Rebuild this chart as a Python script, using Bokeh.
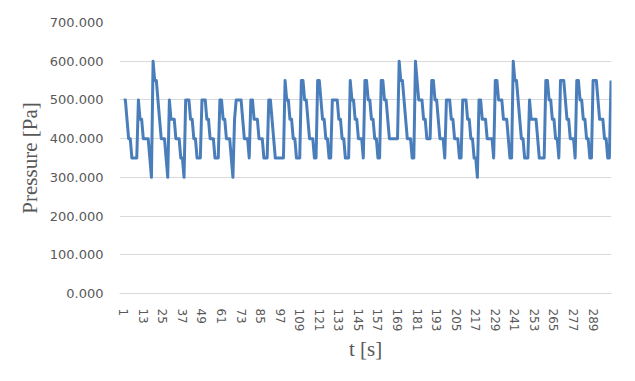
from bokeh.plotting import figure
from bokeh.models import FixedTicker, PrintfTickFormatter, Range1d, ColumnDataSource
from bokeh.embed import file_html
from bokeh.resources import INLINE

# ---- data -------------------------------------------------------------
t_seconds = list(range(1, 301))

pressure = [
    500, 500, 450, 400, 400, 350, 350, 350, 350, 500,
    450, 450, 400, 400, 400, 400, 350, 300, 600, 550,
    550, 500, 450, 400, 400, 400, 350, 300, 500, 450,
    450, 450, 400, 400, 400, 350, 350, 300, 500, 500,
    500, 450, 450, 400, 400, 350, 350, 350, 500, 500,
    500, 450, 450, 400, 400, 400, 350, 350, 350, 500,
    500, 450, 450, 400, 400, 400, 350, 300, 450, 500,
    500, 500, 500, 450, 400, 400, 400, 350, 500, 500,
    450, 450, 450, 400, 400, 400, 350, 350, 350, 500,
    500, 450, 400, 350, 350, 350, 350, 350, 350, 550,
    500, 500, 450, 450, 400, 400, 350, 350, 350, 550,
    550, 500, 500, 450, 400, 400, 400, 350, 350, 550,
    550, 500, 450, 450, 400, 400, 350, 350, 500, 500,
    500, 500, 450, 450, 400, 400, 350, 350, 350, 550,
    500, 500, 450, 450, 400, 400, 400, 350, 550, 550,
    500, 500, 450, 450, 400, 400, 350, 350, 550, 550,
    500, 500, 450, 400, 400, 400, 400, 400, 400, 600,
    550, 550, 500, 450, 400, 400, 400, 350, 350, 600,
    550, 500, 500, 500, 450, 450, 400, 400, 400, 550,
    550, 500, 500, 450, 400, 400, 400, 350, 500, 500,
    500, 450, 450, 400, 400, 400, 350, 350, 500, 500,
    500, 450, 450, 400, 400, 350, 350, 300, 500, 500,
    450, 450, 450, 400, 400, 400, 400, 350, 550, 550,
    500, 500, 500, 450, 450, 450, 400, 350, 350, 600,
    550, 550, 500, 450, 400, 400, 350, 350, 350, 500,
    450, 450, 450, 450, 400, 350, 350, 350, 350, 550,
    550, 500, 500, 450, 450, 400, 400, 350, 550, 550,
    550, 500, 450, 450, 400, 400, 400, 350, 550, 550,
    500, 500, 450, 450, 400, 400, 350, 350, 550, 550,
    550, 500, 450, 450, 450, 400, 400, 350, 350, 550,
]

x_ticks = list(range(1, 300, 12))          # 1, 13, 25, ... 289
y_ticks = [0, 100, 200, 300, 400, 500, 600, 700]

x_title = "t [s]"
y_title = "Pressure [Pa]"

# ---- figure -----------------------------------------------------------
src = ColumnDataSource(data=dict(t=t_seconds, p=pressure))

p = figure(
    width=619, height=365,
    output_backend="svg", toolbar_location=None,
    x_range=Range1d(-1.6, 300.3), y_range=Range1d(0, 700),
    min_border_left=119, min_border_right=8,
    min_border_top=22, min_border_bottom=72,
)
p.outline_line_color = None
p.background_fill_color = "white"
p.border_fill_color = "white"

p.line("t", "p", source=src, line_color="#4a7ebb", line_width=3,
       line_join="round")

# grid
p.xgrid.grid_line_color = None
p.ygrid.grid_line_color = "#d9d9d9"
p.ygrid.grid_line_width = 1

# x axis
xa = p.xaxis[0]
xa.ticker = FixedTicker(ticks=x_ticks)
xa.major_label_orientation = "vertical"
xa.major_tick_line_color = None
xa.minor_tick_line_color = None
xa.axis_line_color = "#d9d9d9"
xa.major_label_text_font = "DejaVu Sans"
xa.major_label_text_font_size = "12px"
xa.major_label_text_color = "#595959"
xa.major_label_standoff = 9
xa.axis_label = x_title
xa.axis_label_text_font = "Liberation Serif"
xa.axis_label_text_font_size = "21px"
xa.axis_label_text_font_style = "normal"
xa.axis_label_text_color = "#595959"
xa.axis_label_standoff = 3

# y axis
ya = p.yaxis[0]
ya.ticker = FixedTicker(ticks=y_ticks)
ya.formatter = PrintfTickFormatter(format="%.3f")
ya.major_tick_line_color = None
ya.minor_tick_line_color = None
ya.axis_line_color = None
ya.major_label_text_font = "DejaVu Sans"
ya.major_label_text_font_size = "13px"
ya.major_label_text_color = "#595959"
ya.major_label_standoff = 10
ya.axis_label = y_title
ya.axis_label_text_font = "Liberation Serif"
ya.axis_label_text_font_size = "21px"
ya.axis_label_text_font_style = "normal"
ya.axis_label_text_color = "#595959"
ya.axis_label_standoff = 5

open("out.html", "w").write(file_html(p, INLINE))
